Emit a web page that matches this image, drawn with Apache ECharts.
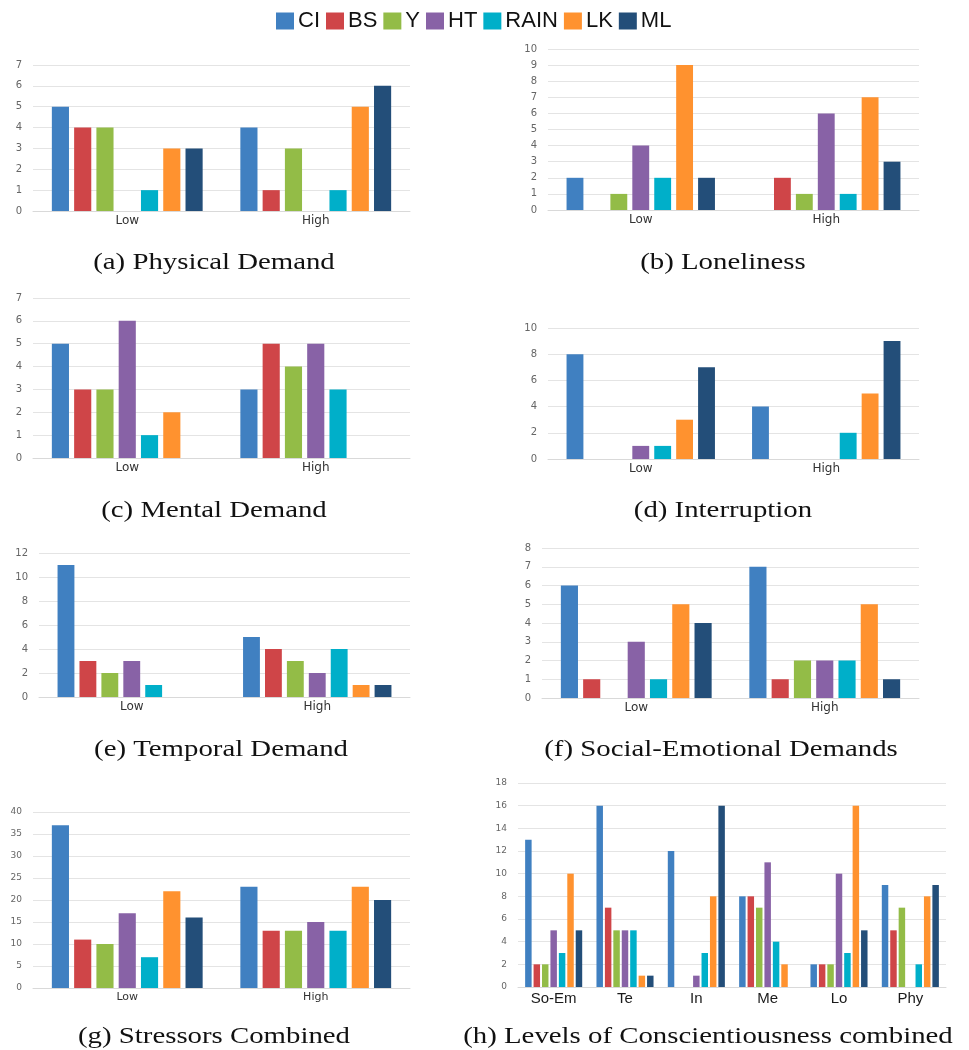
<!DOCTYPE html>
<html>
<head>
<meta charset="utf-8">
<script src="https://cdn.jsdelivr.net/npm/echarts@6/dist/echarts.min.js"></script>
<style>
  html, body { margin: 0; padding: 0; background: #ffffff; }
  #chart { width: 969px; height: 1050px; }
</style>
</head>
<body>
<div id="chart"></div>
<script>
// 系列名称与颜色
const names = ['CI', 'BS', 'Y', 'HT', 'RAIN', 'LK', 'ML'];
const colors = ['#4080C1', '#CF4548', '#93BC47', '#8862A6', '#00AFC9', '#FF922F', '#234E79'];

const levels = ['Low', 'High'];
const conscCats = ['So-Em', 'Te', 'In', 'Me', 'Lo', 'Phy'];

// 每个子图的数据，顺序同 names
const physicalDemand = [[5, 4], [4, 1], [4, 3], [0, 0], [1, 1], [3, 5], [3, 6]];
const loneliness = [[2, 0], [0, 2], [1, 1], [4, 6], [2, 1], [9, 7], [2, 3]];
const mentalDemand = [[5, 3], [3, 5], [3, 4], [6, 5], [1, 3], [2, 0], [0, 0]];
const interruption = [[8, 4], [0, 0], [0, 0], [1, 0], [1, 2], [3, 5], [7, 9]];
const temporalDemand = [[11, 5], [3, 4], [2, 3], [3, 2], [1, 4], [0, 1], [0, 1]];
const socialEmotional = [[6, 7], [1, 1], [0, 2], [3, 2], [1, 2], [5, 5], [4, 1]];
const stressorsCombined = [[37, 23], [11, 13], [10, 13], [17, 15], [7, 13], [22, 23], [16, 20]];
const conscCombined = [
  [13, 16, 12, 8, 2, 9],
  [2, 7, 0, 8, 2, 5],
  [2, 5, 0, 7, 2, 7],
  [5, 5, 1, 11, 10, 0],
  [3, 5, 3, 4, 3, 2],
  [10, 1, 8, 2, 16, 8],
  [5, 1, 16, 0, 5, 9],
];

// 子图布局
const panels = [
  { data: physicalDemand, cats: levels, max: 7, interval: 1, left: 33, top: 65, width: 377, height: 146, caption: '(a) Physical Demand', cx: 214, cy: 262 },
  { data: loneliness, cats: levels, max: 10, interval: 1, left: 548, top: 49, width: 371, height: 161, caption: '(b) Loneliness', cx: 723, cy: 262 },
  { data: mentalDemand, cats: levels, max: 7, interval: 1, left: 33, top: 298, width: 377, height: 160, caption: '(c) Mental Demand', cx: 214, cy: 510 },
  { data: interruption, cats: levels, max: 10, interval: 2, left: 548, top: 328, width: 371, height: 131, caption: '(d) Interruption', cx: 723, cy: 510 },
  { data: temporalDemand, cats: levels, max: 12, interval: 2, left: 39, top: 553, width: 371, height: 144, caption: '(e) Temporal Demand', cx: 221, cy: 749 },
  { data: socialEmotional, cats: levels, max: 8, interval: 1, left: 542, top: 548, width: 377, height: 150, caption: '(f) Social-Emotional Demands', cx: 721, cy: 749 },
  { data: stressorsCombined, cats: levels, max: 40, interval: 5, left: 33, top: 812, width: 377, height: 176, caption: '(g) Stressors Combined', cx: 214, cy: 1036, small: true },
  { data: conscCombined, cats: conscCats, max: 18, interval: 2, left: 518, top: 783, width: 428, height: 204, caption: '(h) Levels of Conscientiousness combined', cx: 708, cy: 1036, small: true, big: true },
];

const grid = [];
const xAxis = [];
const yAxis = [];
const series = [];
const graphic = [];

panels.forEach((p, i) => {
  grid.push({ left: p.left, top: p.top, width: p.width, height: p.height, containLabel: false });
  xAxis.push({
    type: 'category',
    gridIndex: i,
    data: p.cats,
    axisTick: { show: false },
    axisLine: { lineStyle: { color: '#D9D9D9', width: 1 } },
    axisLabel: p.big
      ? { color: '#1a1a1a', fontSize: 15, fontFamily: 'Liberation Sans', margin: 4 }
      : { color: '#333333', fontSize: p.small ? 11 : 12, fontFamily: 'DejaVu Sans', margin: 4 },
  });
  yAxis.push({
    type: 'value',
    gridIndex: i,
    min: 0,
    max: p.max,
    interval: p.interval,
    axisLine: { show: false },
    axisTick: { show: false },
    splitLine: { lineStyle: { color: '#E4E4E4', width: 1 } },
    axisLabel: { color: '#666666', fontSize: p.small ? 9 : 10, fontFamily: 'DejaVu Sans', margin: 11 },
  });
  names.forEach((n, k) => {
    series.push({
      type: 'bar',
      name: n,
      xAxisIndex: i,
      yAxisIndex: i,
      data: p.data[k],
      barGap: '30%',
      barCategoryGap: '20%',
      itemStyle: { color: colors[k] },
      silent: true,
    });
  });
  graphic.push({
    type: 'text',
    x: p.cx,
    y: p.cy + 1,
    scaleX: 1.2,
    style: {
      text: p.caption,
      fill: '#111111',
      font: '24px "Liberation Serif"',
      textAlign: 'center',
      textVerticalAlign: 'middle',
    },
  });
});

const option = {
  backgroundColor: '#ffffff',
  animation: false,
  color: colors,
  legend: {
    data: names,
    left: 271,
    top: 5,
    itemWidth: 18,
    itemHeight: 17,
    itemGap: 6,
    icon: 'rect',
    textStyle: { color: '#111111', fontSize: 22, fontFamily: 'Liberation Sans', padding: [0, 0, 0, -1] },
  },
  grid: grid,
  xAxis: xAxis,
  yAxis: yAxis,
  series: series,
  graphic: graphic,
};

const mychart = echarts.init(document.getElementById('chart'));
mychart.setOption(option);

window.addEventListener('resize', () => {
  mychart.resize();
});
</script>
</body>
</html>
